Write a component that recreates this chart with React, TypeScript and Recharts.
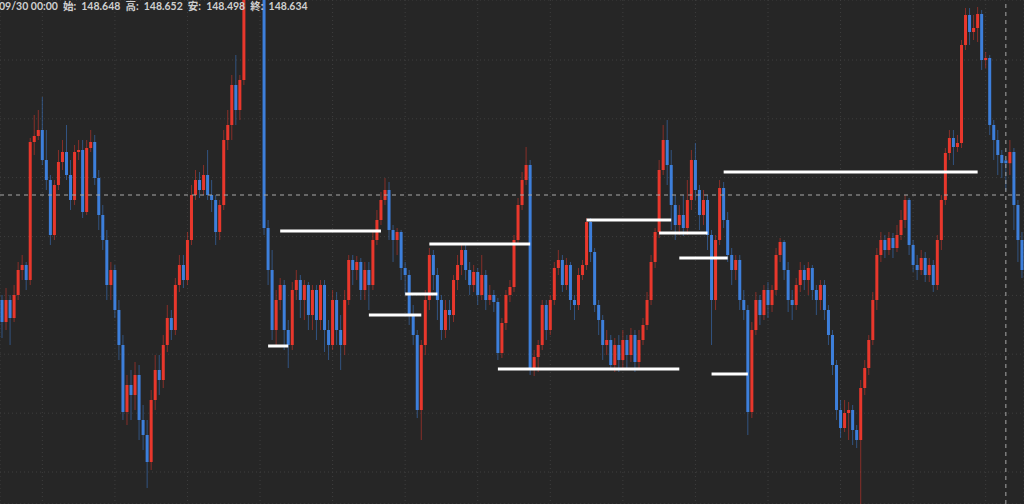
import { Bar, CartesianGrid, ComposedChart, ReferenceLine, XAxis, YAxis } from 'recharts'

// [open, high, low, close] per candle, left to right
const ohlc: [number, number, number, number][] = [
  [147.95, 147.975, 147.76, 147.84], [147.84, 148.01, 147.8, 147.95], [147.95, 147.975, 147.725, 147.86], [147.86, 148.025, 147.84, 147.975], [147.975, 148.14, 147.95, 148.1],
  [148.1, 148.175, 148.05, 148.125], [148.125, 148.14, 148.0, 148.05], [148.05, 148.76, 148.025, 148.74], [148.74, 148.875, 148.675, 148.77], [148.77, 148.9, 148.75, 148.8],
  [148.8, 148.965, 148.625, 148.65], [148.65, 148.8, 148.5, 148.55], [148.55, 148.575, 148.225, 148.275], [148.275, 148.55, 148.25, 148.525], [148.525, 148.7, 148.5, 148.64],
  [148.64, 148.75, 148.6, 148.69], [148.69, 148.825, 148.55, 148.575], [148.575, 148.65, 148.4, 148.45], [148.45, 148.725, 148.425, 148.69], [148.69, 148.75, 148.65, 148.7],
  [148.7, 148.75, 148.36, 148.39], [148.39, 148.75, 148.375, 148.71], [148.71, 148.8, 148.69, 148.74], [148.74, 148.775, 148.525, 148.56], [148.56, 148.6, 148.3, 148.375],
  [148.375, 148.425, 148.2, 148.25], [148.25, 148.3, 147.95, 148.025], [148.025, 148.14, 147.95, 148.1], [148.1, 148.125, 147.86, 147.9], [147.9, 147.95, 147.65, 147.725],
  [147.725, 147.775, 147.35, 147.39], [147.39, 147.575, 147.325, 147.525], [147.525, 147.6, 147.35, 147.475], [147.475, 147.64, 147.4, 147.575], [147.575, 147.625, 147.25, 147.35],
  [147.35, 147.425, 147.2, 147.275], [147.275, 147.35, 147.01, 147.14], [147.14, 147.5, 147.1, 147.45], [147.45, 147.675, 147.4, 147.6], [147.6, 147.675, 147.475, 147.55],
  [147.55, 147.775, 147.51, 147.725], [147.725, 147.925, 147.69, 147.86], [147.86, 147.9, 147.75, 147.8], [147.8, 148.06, 147.775, 148.025], [148.025, 148.175, 147.99, 148.125],
  [148.125, 148.175, 148.01, 148.05], [148.05, 148.29, 148.025, 148.25], [148.25, 148.525, 148.225, 148.475], [148.475, 148.6, 148.45, 148.55], [148.55, 148.59, 148.46, 148.5],
  [148.5, 148.625, 148.475, 148.575], [148.575, 148.7, 148.45, 148.475], [148.475, 148.55, 148.39, 148.45], [148.45, 148.475, 148.225, 148.29], [148.29, 148.45, 148.25, 148.425],
  [148.425, 148.8, 148.4, 148.75], [148.75, 148.9, 148.7, 148.825], [148.825, 149.075, 148.75, 149.025], [149.025, 149.175, 148.825, 148.9], [148.9, 149.075, 148.85, 149.05],
  [149.05, 149.65, 149.025, 149.55], [149.55, 149.85, 149.52, 149.75], [149.75, 149.9, 149.62, 149.7], [149.7, 149.8, 149.58, 149.62], [149.62, 149.68, 149.46, 149.5],
  [149.5, 149.55, 148.275, 148.31], [148.31, 148.35, 148.025, 148.1], [148.1, 148.2, 147.75, 147.8], [147.8, 148.0, 147.725, 147.95], [147.95, 148.06, 147.9, 148.025],
  [148.025, 148.05, 147.7, 147.8], [147.8, 147.85, 147.61, 147.725], [147.725, 148.04, 147.7, 148.0], [148.0, 148.1, 147.95, 148.05], [148.05, 148.075, 147.86, 147.95],
  [147.95, 148.05, 147.85, 148.025], [148.025, 148.04, 147.8, 147.875], [147.875, 148.025, 147.8, 148.0], [148.0, 148.025, 147.75, 147.85], [147.85, 148.05, 147.8, 148.025],
  [148.025, 148.05, 147.69, 147.8], [147.8, 147.85, 147.65, 147.725], [147.725, 148.0, 147.7, 147.95], [147.95, 147.99, 147.725, 147.8], [147.8, 147.875, 147.6, 147.725],
  [147.725, 148.0, 147.675, 147.95], [147.95, 148.175, 147.925, 148.15], [148.15, 148.175, 148.025, 148.1], [148.1, 148.17, 148.05, 148.14], [148.14, 148.16, 147.95, 148.0],
  [148.0, 148.14, 147.95, 148.1], [148.1, 148.14, 147.9, 148.025], [148.025, 148.29, 148.0, 148.25], [148.25, 148.4, 148.225, 148.35], [148.35, 148.49, 148.325, 148.45],
  [148.45, 148.56, 148.425, 148.5], [148.5, 148.54, 148.25, 148.3], [148.3, 148.325, 148.14, 148.25], [148.25, 148.31, 148.175, 148.29], [148.29, 148.3, 148.05, 148.11],
  [148.11, 148.14, 147.975, 148.075], [148.075, 148.1, 147.825, 147.875], [147.875, 147.925, 147.725, 147.775], [147.775, 147.8, 147.36, 147.4], [147.4, 147.75, 147.25, 147.725],
  [147.725, 148.0, 147.675, 147.95], [147.95, 148.21, 147.9, 148.175], [148.175, 148.2, 148.0, 148.075], [148.075, 148.11, 147.85, 147.95], [147.95, 147.975, 147.75, 147.8],
  [147.8, 147.95, 147.76, 147.9], [147.9, 147.95, 147.8, 147.875], [147.875, 148.075, 147.84, 148.05], [148.05, 148.175, 148.0, 148.125], [148.125, 148.225, 148.075, 148.2],
  [148.2, 148.225, 148.05, 148.1], [148.1, 148.14, 147.975, 148.025], [148.025, 148.125, 147.99, 148.09], [148.09, 148.11, 147.925, 147.975], [147.975, 148.175, 147.95, 148.075],
  [148.075, 148.1, 147.9, 147.95], [147.95, 148.025, 147.925, 147.975], [147.975, 148.0, 147.89, 147.94], [147.94, 147.96, 147.65, 147.685], [147.685, 147.86, 147.66, 147.835],
  [147.835, 148.0, 147.8, 147.975], [147.975, 148.05, 147.94, 148.015], [148.015, 148.275, 147.99, 148.25], [148.25, 148.46, 148.225, 148.425], [148.425, 148.59, 148.4, 148.55],
  [148.55, 148.715, 148.525, 148.625], [148.625, 148.65, 147.575, 147.61], [147.61, 147.7, 147.57, 147.665], [147.665, 147.75, 147.59, 147.725], [147.725, 147.95, 147.7, 147.925],
  [147.925, 147.95, 147.75, 147.8], [147.8, 147.975, 147.775, 147.95], [147.95, 148.14, 147.925, 148.11], [148.11, 148.2, 148.075, 148.15], [148.15, 148.175, 147.99, 148.025],
  [148.025, 148.16, 148.0, 148.125], [148.125, 148.14, 147.9, 147.95], [147.95, 147.975, 147.85, 147.925], [147.925, 148.11, 147.9, 148.075], [148.075, 148.15, 148.05, 148.125],
  [148.125, 148.36, 148.1, 148.34], [148.34, 148.36, 148.14, 148.19], [148.19, 148.21, 147.89, 147.925], [147.925, 147.95, 147.775, 147.85], [147.85, 147.875, 147.65, 147.725],
  [147.725, 147.8, 147.675, 147.75], [147.75, 147.775, 147.6, 147.625], [147.625, 147.76, 147.59, 147.725], [147.725, 147.775, 147.59, 147.65], [147.65, 147.8, 147.6, 147.75],
  [147.75, 147.775, 147.61, 147.675], [147.675, 147.81, 147.64, 147.775], [147.775, 147.8, 147.59, 147.64], [147.64, 147.8, 147.6, 147.75], [147.75, 147.86, 147.725, 147.825],
  [147.825, 147.99, 147.8, 147.95], [147.95, 148.175, 147.925, 148.14], [148.14, 148.31, 148.11, 148.29], [148.29, 148.65, 148.26, 148.6], [148.6, 148.825, 148.575, 148.75],
  [148.75, 148.85, 148.525, 148.625], [148.625, 148.7, 148.3, 148.425], [148.425, 148.475, 148.25, 148.325], [148.325, 148.425, 148.275, 148.375], [148.375, 148.475, 148.27, 148.31],
  [148.31, 148.55, 148.275, 148.45], [148.45, 148.7, 148.4, 148.65], [148.65, 148.735, 148.45, 148.5], [148.5, 148.525, 148.3, 148.375], [148.375, 148.5, 148.325, 148.45],
  [148.45, 148.475, 148.2, 148.275], [148.275, 148.3, 147.725, 147.95], [147.95, 148.275, 147.9, 148.25], [148.25, 148.55, 148.225, 148.51], [148.51, 148.54, 148.31, 148.35],
  [148.35, 148.39, 148.14, 148.175], [148.175, 148.21, 148.025, 148.1], [148.1, 148.175, 148.05, 148.15], [148.15, 148.175, 147.9, 147.95], [147.95, 148.0, 147.85, 147.9],
  [147.9, 147.925, 147.275, 147.39], [147.39, 147.84, 147.36, 147.8], [147.8, 147.99, 147.775, 147.95], [147.95, 147.975, 147.825, 147.875], [147.875, 148.025, 147.85, 148.0],
  [148.0, 148.04, 147.86, 147.925], [147.925, 148.025, 147.89, 148.0], [148.0, 148.21, 147.975, 148.175], [148.175, 148.26, 148.14, 148.24], [148.24, 148.25, 148.05, 148.1],
  [148.1, 148.14, 147.89, 147.95], [147.95, 148.0, 147.85, 147.925], [147.925, 148.06, 147.9, 148.025], [148.025, 148.14, 147.99, 148.1], [148.1, 148.125, 148.0, 148.05],
  [148.05, 148.14, 147.975, 148.11], [148.11, 148.125, 147.95, 148.0], [148.0, 148.025, 147.875, 147.95], [147.95, 148.05, 147.9, 148.025], [148.025, 148.05, 147.85, 147.9],
  [147.9, 147.925, 147.725, 147.775], [147.775, 147.8, 147.575, 147.625], [147.625, 147.65, 147.35, 147.4], [147.4, 147.45, 147.26, 147.31], [147.31, 147.45, 147.29, 147.385],
  [147.385, 147.44, 147.25, 147.4], [147.4, 147.425, 147.225, 147.3], [147.3, 147.325, 147.21, 147.25], [147.25, 147.55, 146.9, 147.51], [147.51, 147.65, 147.475, 147.61],
  [147.61, 147.775, 147.575, 147.75], [147.75, 147.99, 147.725, 147.95], [147.95, 148.21, 147.9, 148.175], [148.175, 148.29, 148.14, 148.25], [148.25, 148.275, 148.16, 148.2],
  [148.2, 148.29, 148.175, 148.26], [148.26, 148.285, 148.16, 148.21], [148.21, 148.325, 148.19, 148.275], [148.275, 148.4, 148.25, 148.35], [148.35, 148.475, 148.31, 148.45],
  [148.45, 148.46, 148.175, 148.225], [148.225, 148.25, 148.09, 148.125], [148.125, 148.175, 148.05, 148.1], [148.1, 148.2, 148.075, 148.16], [148.16, 148.19, 148.04, 148.075],
  [148.075, 148.16, 148.04, 148.125], [148.125, 148.15, 147.99, 148.025], [148.025, 148.275, 148.0, 148.25], [148.25, 148.475, 148.2, 148.45], [148.45, 148.71, 148.425, 148.685],
  [148.685, 148.8, 148.65, 148.76], [148.76, 148.8, 148.625, 148.715], [148.715, 148.775, 148.69, 148.735], [148.735, 149.25, 148.71, 149.225], [149.225, 149.41, 149.2, 149.375],
  [149.375, 149.41, 149.225, 149.29], [149.29, 149.375, 149.25, 149.31], [149.31, 149.415, 149.24, 149.38], [149.38, 149.4, 149.1, 149.15], [149.15, 149.19, 149.11, 149.16],
  [149.16, 149.175, 148.775, 148.825], [148.825, 148.85, 148.65, 148.75], [148.75, 148.8, 148.575, 148.675], [148.675, 148.7, 148.56, 148.635], [148.648, 148.652, 148.498, 148.634],
  [148.634, 148.75, 148.575, 148.69], [148.69, 148.71, 148.3, 148.425], [148.425, 148.45, 148.14, 148.25], [148.25, 148.29, 148.06, 148.1],
]

// candle indices where the dotted time grid falls
const gridTimes = [10, 28, 46, 64, 82, 100, 118, 136, 154, 172, 190, 208, 226, 244]
const gridPrices = [149.15, 148.856, 148.562, 148.267, 147.973, 147.679, 147.384, 147.09]

// drawn horizontal levels: start candle, end candle, price
const levelStart = [66, 69, 91, 100, 106, 123, 145, 163, 168, 176, 179]
const levelEnd = [71, 94, 104, 108, 131, 168, 166, 175, 180, 185, 242]
const levelPrice = [147.72, 148.295, 147.875, 147.98, 148.23, 147.605, 148.35, 148.285, 148.16, 147.58, 148.59]

const cursorIndex = 249
const cursorPrice = 148.475

const data = ohlc.map(([open, high, low, close], i) => ({ i, open, high, low, close }))

const UP = '#e8372c'
const DOWN = '#3d7fdb'

function Candle(props: any) {
  const { x, y, width, height, payload } = props
  const { open, high, low, close } = payload
  const top = Math.min(y, y + height)
  const h = Math.abs(height)
  const k = high > low ? h / (high - low) : 0
  const bodyTop = top + (high - Math.max(open, close)) * k
  const bodyH = Math.max(1, Math.abs(open - close) * k)
  const color = close > open ? UP : DOWN
  const cx = x + width / 2
  return (
    <g>
      <line x1={cx} x2={cx} y1={top} y2={top + h} stroke={color} strokeOpacity={0.5} strokeWidth={1} />
      <rect x={x + 0.5} y={bodyTop} width={Math.max(1, width - 1)} height={bodyH} fill={color} />
    </g>
  )
}

export default function App() {
  return (
    <div style={{ position: 'relative', width: 1024, height: 504, background: '#262626' }}>
      <style>{'body{margin:0;background:#262626}'}</style>
      <ComposedChart
        width={1024}
        height={504}
        data={data}
        margin={{ top: 0, right: 0, bottom: 0, left: 0 }}
        barCategoryGap={0}
        barGap={0}
      >
        <CartesianGrid stroke="#3e3e3e" strokeDasharray="1 3" />
        <XAxis dataKey="i" hide ticks={gridTimes} interval={0} />
        <YAxis hide domain={[146.93, 149.45]} allowDataOverflow ticks={gridPrices} />
        <Bar dataKey={(d: any) => [d.low, d.high]} shape={Candle} isAnimationActive={false} />
        {levelPrice.map((p, k) => (
          <ReferenceLine
            key={k}
            segment={[
              { x: levelStart[k], y: p },
              { x: levelEnd[k], y: p },
            ]}
            stroke="#ffffff"
            strokeWidth={3}
          />
        ))}
        <ReferenceLine y={cursorPrice} stroke="#a8a8a8" strokeDasharray="4 4" />
        <ReferenceLine x={cursorIndex} stroke="#a8a8a8" strokeDasharray="4 4" />
      </ComposedChart>
      <div
        style={{
          position: 'absolute',
          left: -1,
          top: 0,
          fontFamily: 'Lato, "Noto Sans CJK JP", sans-serif',
          fontWeight: 700,
          fontSize: 10.5,
          lineHeight: '12px',
          color: '#cfcfcf',
          whiteSpace: 'pre',
        }}
      >
        {'09/30 00:00  始:  148.648  高:  148.652  安:  148.498  終:  148.634'}
      </div>
    </div>
  )
}
